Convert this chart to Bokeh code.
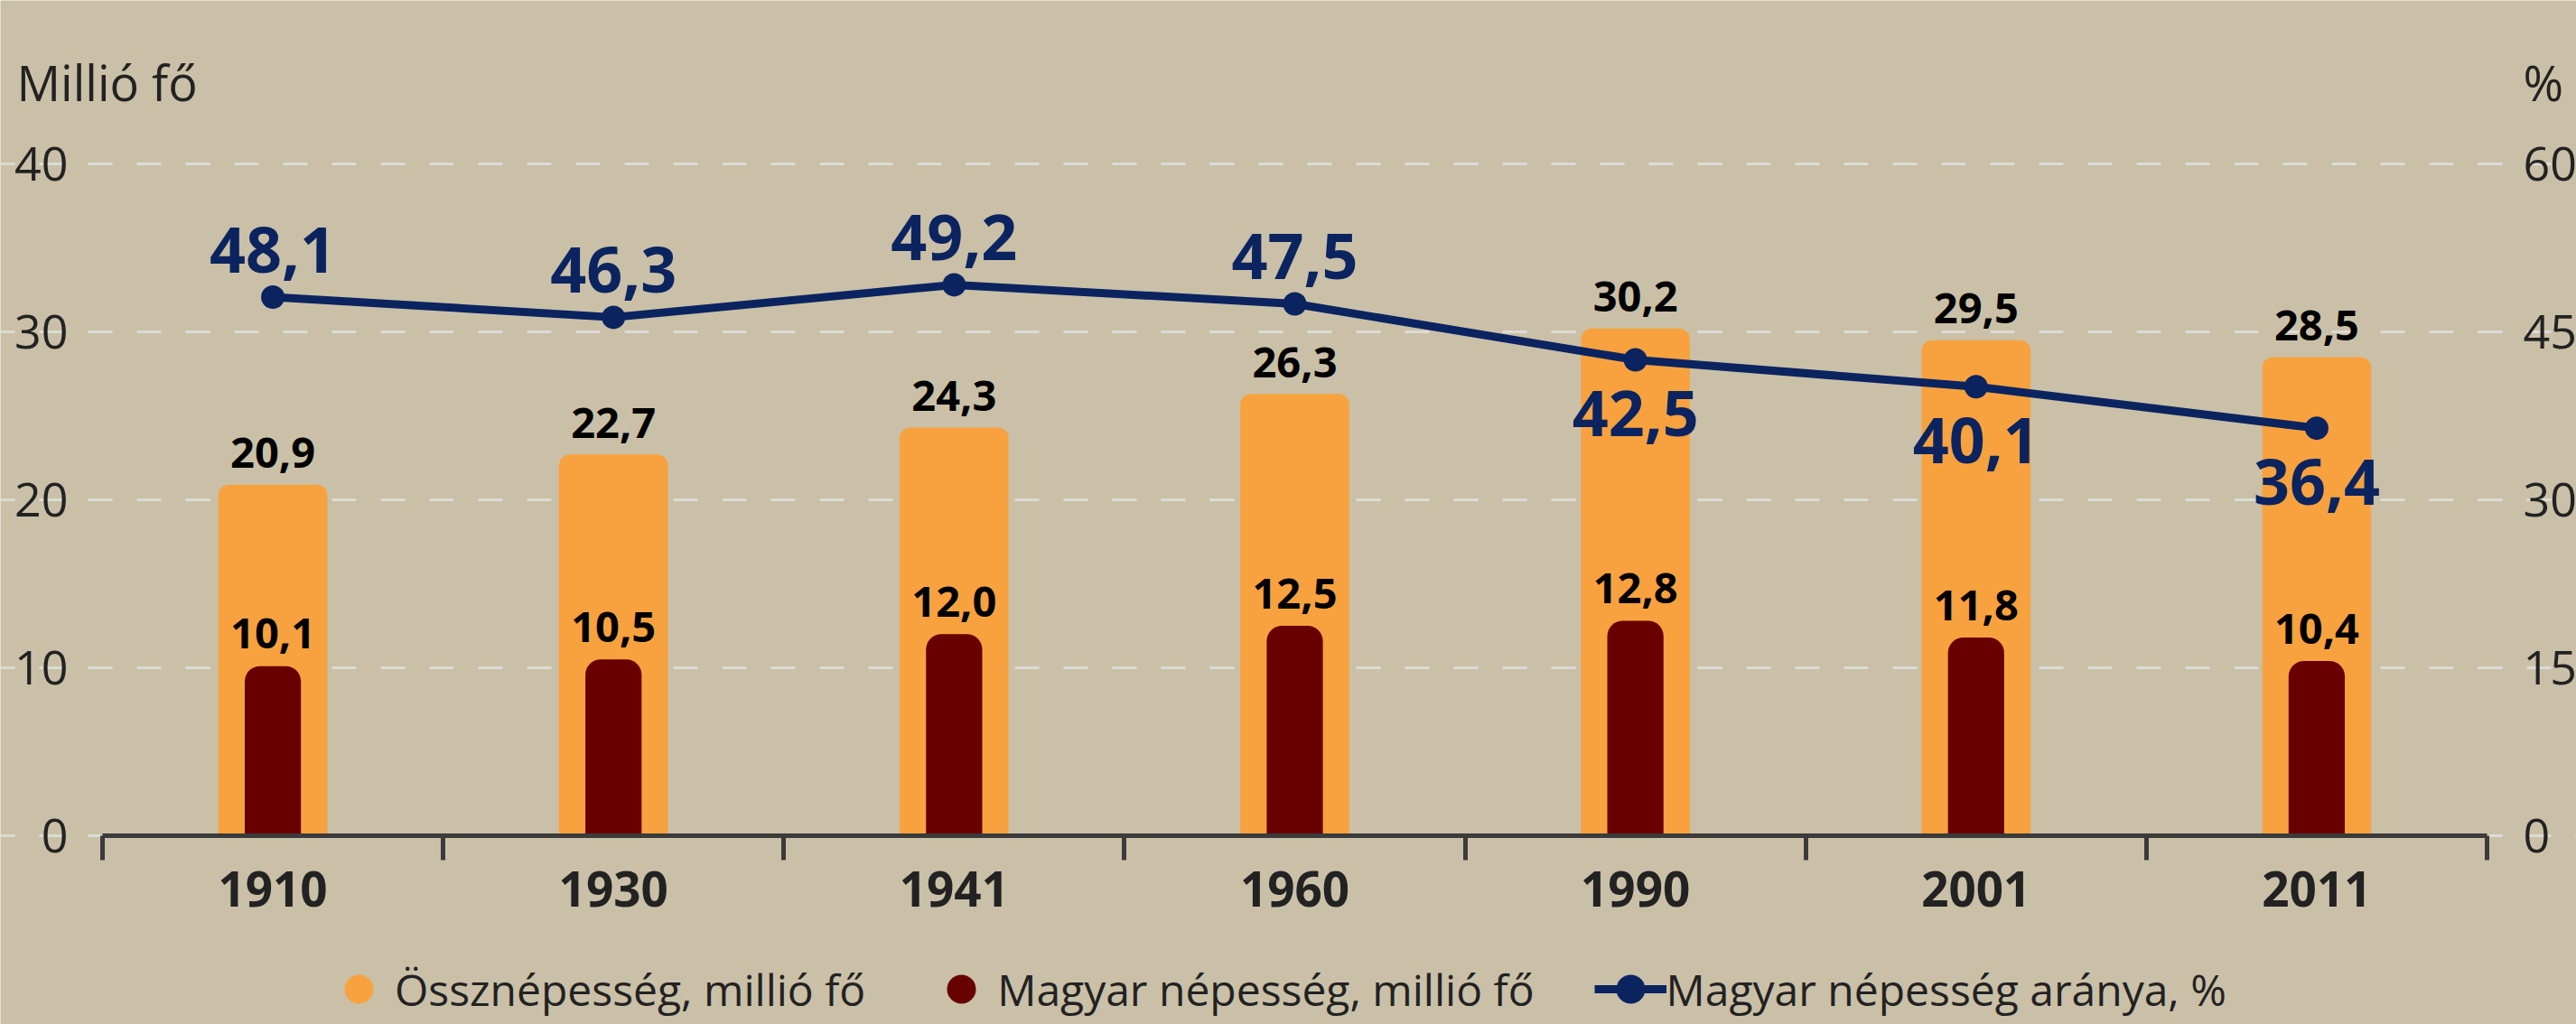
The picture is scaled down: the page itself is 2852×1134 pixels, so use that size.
from bokeh.plotting import figure
from bokeh.models import (Range1d, LinearAxis, FixedTicker, Legend, LegendItem,
                          Label, ColumnDataSource)
from bokeh.core.properties import value
from bokeh.embed import file_html
from bokeh.resources import INLINE

# ---- data ----
years = ["1910", "1930", "1941", "1960", "1990", "2001", "2011"]
total_pop = [20.9, 22.7, 24.3, 26.3, 30.2, 29.5, 28.5]      # millió fő
hun_pop = [10.1, 10.5, 12.0, 12.5, 12.8, 11.8, 10.4]        # millió fő
hun_share = [48.1, 46.3, 49.2, 47.5, 42.5, 40.1, 36.4]      # %
share_label_below = [False, False, False, False, True, True, True]
left_ticks = [0, 10, 20, 30, 40]
right_ticks = [0, 15, 30, 45, 60]
legend_labels = ["Össznépesség, millió fő", "Magyar népesség, millió fő",
                 "Magyar népesség aránya, %"]

# ---- style ----
BG = "#cac0a8"
ORANGE = "#f7a23f"
DARK = "#680000"
NAVY = "#0b2460"
TXT = "#222222"
AXIS = "#3b3b3b"
GRID = "#dedbd4"
FONT = "Open Sans"


def fmt(v):
    return f"{v:.1f}".replace(".", ",")


n = len(years)
idx = list(range(n))

# canvas geometry (pixels): category band from x=113 to x=2753, zero line at y=925
W, H = 2852, 1134
PLOT_L, PLOT_R, ZERO_Y, TOP40_Y = 113, 2753, 925, 181
px_per_cat = (PLOT_R - PLOT_L) / n
px_per_unit = (ZERO_Y - TOP40_Y) / left_ticks[-1]
X_START = -0.5 - PLOT_L / px_per_cat
X_END = n - 0.5 + (W - PLOT_R) / px_per_cat
Y_START = -(H - ZERO_Y) / px_per_unit
Y_END = ZERO_Y / px_per_unit
PCT_SCALE = right_ticks[-1] / left_ticks[-1]

src = ColumnDataSource(dict(
    x=idx,
    total=total_pop,
    hun=hun_pop,
    share=hun_share,
    total_lbl=[fmt(v) for v in total_pop],
    hun_lbl=[fmt(v) for v in hun_pop],
    share_lbl=[fmt(v) for v in hun_share],
    share_off=[59 if b else -53 for b in share_label_below],
))

p = figure(width=W, height=H, output_backend="svg", toolbar_location=None,
           x_range=Range1d(X_START, X_END), y_range=Range1d(Y_START, Y_END),
           min_border_left=0, min_border_right=0, min_border_top=0,
           min_border_bottom=0)
p.extra_y_ranges = {"pct": Range1d(Y_START * PCT_SCALE, Y_END * PCT_SCALE)}

p.background_fill_color = BG
p.border_fill_color = BG
p.outline_line_color = None
p.xgrid.visible = False

# left axis
yax = p.yaxis[0]
yax.fixed_location = -0.5
yax.ticker = FixedTicker(ticks=left_ticks)
yax.axis_line_color = None
yax.major_tick_line_color = None
yax.minor_tick_line_color = None
yax.major_tick_out = 0
yax.major_tick_in = 0
yax.major_label_standoff = 38
yax.major_label_text_font = FONT
yax.major_label_text_font_size = "52px"
yax.major_label_text_color = TXT

p.ygrid.grid_line_color = GRID
p.ygrid.grid_line_width = 3
p.ygrid.grid_line_dash = "27 27"
p.ygrid.grid_line_dash_offset = 11
p.ygrid.bounds = (-0.5, n - 0.5)

# right axis
rax = LinearAxis(y_range_name="pct", ticker=FixedTicker(ticks=right_ticks))
rax.fixed_location = n - 0.5
rax.axis_line_color = None
rax.major_tick_line_color = None
rax.minor_tick_line_color = None
rax.major_tick_out = 0
rax.major_tick_in = 0
rax.major_label_standoff = 40
rax.major_label_text_font = FONT
rax.major_label_text_font_size = "52px"
rax.major_label_text_color = TXT
p.add_layout(rax, "right")

# x axis, drawn at value 0
xax = p.xaxis[0]
xax.fixed_location = 0
xax.bounds = (-0.5, n - 0.5)
xax.ticker = FixedTicker(ticks=idx, minor_ticks=[i - 0.5 for i in range(n + 1)])
xax.major_label_overrides = {i: y for i, y in zip(idx, years)}
xax.axis_line_color = AXIS
xax.axis_line_width = 5
xax.major_tick_line_color = None
xax.major_tick_out = 0
xax.major_tick_in = 0
xax.minor_tick_line_color = AXIS
xax.minor_tick_line_width = 5
xax.minor_tick_out = 27
xax.minor_tick_in = 0
xax.major_label_standoff = 12
xax.major_label_text_font = FONT
xax.major_label_text_font_style = "bold"
xax.major_label_text_font_size = "53px"
xax.major_label_text_color = TXT

# bars
p.vbar(x="x", top="total", bottom=0, width=0.32, source=src,
       fill_color=ORANGE, line_color=None, border_radius=(12, 12, 0, 0))
p.vbar(x="x", top="hun", bottom=0, width=0.165, source=src,
       fill_color=DARK, line_color=None, border_radius=(17, 17, 0, 0))

# legend glyphs for the bar series: zero-size circles (invisible in the plot)
tot_proxy = p.scatter(x="x", y="total", source=src, marker="circle", size=0,
                      fill_color=ORANGE, line_color=None)
hun_proxy = p.scatter(x="x", y="hun", source=src, marker="circle", size=0,
                      fill_color=DARK, line_color=None)

# line
line_r = p.line(x="x", y="share", source=src, y_range_name="pct",
                line_color=NAVY, line_width=9)
mark_r = p.scatter(x="x", y="share", source=src, y_range_name="pct",
                   marker="circle", size=26, fill_color=NAVY, line_color=None)

# value labels
p.text(x="x", y="total", text="total_lbl", source=src, text_align="center",
       text_baseline="alphabetic", y_offset=-35, text_font=value(FONT),
       text_font_style="bold", text_font_size="47px", text_color="#000000")
p.text(x="x", y="hun", text="hun_lbl", source=src, text_align="center",
       text_baseline="alphabetic", y_offset=-36, text_font=value(FONT),
       text_font_style="bold", text_font_size="47px", text_color="#000000")
p.text(x="x", y="share", text="share_lbl", source=src, y_range_name="pct",
       text_align="center", text_baseline="alphabetic", y_offset="share_off",
       text_font=value(FONT), text_font_style="bold", text_font_size="70px",
       text_color=NAVY)

# axis titles
title_y = (ZERO_Y - 90) / px_per_unit
p.add_layout(Label(x=-0.5 - 95 / px_per_cat, y=title_y,
                   text="Millió fő", text_font=FONT,
                   text_font_size="54px", text_color=TXT,
                   text_align="left", text_baseline="alphabetic"))
p.add_layout(Label(x=n - 0.5 + 40 / px_per_cat, y=title_y,
                   text="%", text_font=FONT,
                   text_font_size="54px", text_color=TXT,
                   text_align="left", text_baseline="alphabetic"))

legend = Legend(items=[
    LegendItem(label=legend_labels[0], renderers=[tot_proxy]),
    LegendItem(label=legend_labels[1], renderers=[hun_proxy]),
    LegendItem(label=legend_labels[2], renderers=[line_r, mark_r]),
], location=(357, -1), orientation="horizontal",
    glyph_width=80, glyph_height=80, label_standoff=0, spacing=66,
    padding=0, margin=0, label_text_font=FONT, label_text_font_size="48px",
    label_text_color=TXT, background_fill_alpha=0, border_line_color=None)
p.add_layout(legend)

html = file_html(p, INLINE)
html = html.replace("<body>", '<body style="background-color:%s;">' % BG, 1)
open("out.html", "w").write(html)
